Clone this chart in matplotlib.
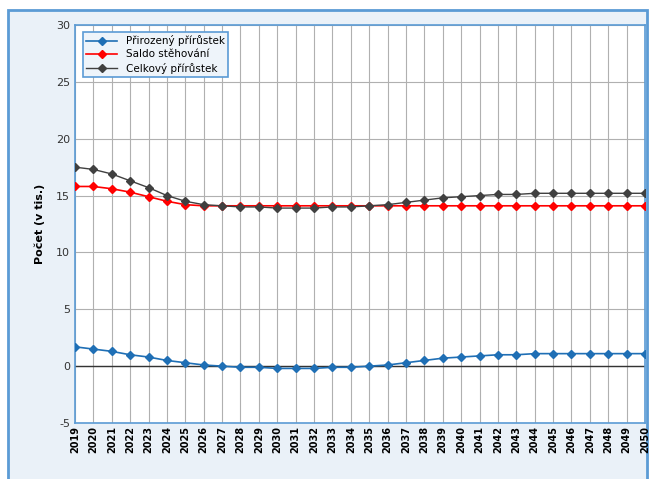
import matplotlib
matplotlib.use("Agg")
import matplotlib.pyplot as plt
from matplotlib.patches import Rectangle

plt.rcParams["axes.unicode_minus"] = False

years = list(range(2019, 2051))
celkovy = [17.5, 17.3, 16.9, 16.3, 15.7, 15.0, 14.5, 14.2, 14.1, 14.0, 14.0, 13.9,
           13.9, 13.9, 14.0, 14.0, 14.1, 14.2, 14.4, 14.6, 14.8, 14.9, 15.0, 15.1,
           15.1, 15.2, 15.2, 15.2, 15.2, 15.2, 15.2, 15.2]
saldo = [15.8, 15.8, 15.6, 15.3, 14.9, 14.5, 14.2, 14.1, 14.1, 14.1, 14.1, 14.1,
         14.1, 14.1, 14.1, 14.1, 14.1, 14.1, 14.1, 14.1, 14.1, 14.1, 14.1, 14.1,
         14.1, 14.1, 14.1, 14.1, 14.1, 14.1, 14.1, 14.1]
prirozeny = [1.7, 1.5, 1.3, 1.0, 0.8, 0.5, 0.3, 0.1, 0.0, -0.1, -0.1, -0.2,
             -0.2, -0.2, -0.1, -0.1, 0.0, 0.1, 0.3, 0.5, 0.7, 0.8, 0.9, 1.0,
             1.0, 1.1, 1.1, 1.1, 1.1, 1.1, 1.1, 1.1]

fig = plt.figure(figsize=(6.49, 4.79), dpi=100)
fig.patch.set_facecolor("white")
# light blue chart area with a blue border (bottom edge is cut off)
fig.patches.append(Rectangle((8 / 649, -0.02), 639 / 649, 469 / 479 + 0.02,
                             transform=fig.transFigure, facecolor="#eaf1f8",
                             edgecolor="#5b9bd5", linewidth=2, zorder=-1))

ax = fig.add_axes([75 / 649, 1 - 423 / 479, 570 / 649, 398 / 479])
ax.set_facecolor("white")

ax.plot(years, prirozeny, color="#1f6fb5", marker="D", markersize=4.5,
        linewidth=1.2, label="Přirozený přírůstek", zorder=3)
ax.plot(years, saldo, color="#ff0000", marker="D", markersize=4.5,
        linewidth=1.2, label="Saldo stěhování", zorder=3)
ax.plot(years, celkovy, color="#404040", marker="D", markersize=4.5,
        linewidth=1.0, label="Celkový přírůstek", zorder=4)

ax.set_xlim(2019, 2050)
ax.set_ylim(-5, 30)
ax.set_yticks(range(-5, 31, 5))
ax.set_xticks(years)
ax.set_xticklabels([str(y) for y in years], rotation=90, fontsize=7,
                   fontweight="bold")
ax.tick_params(axis="y", labelsize=8, length=0, colors="#333333")
ax.tick_params(axis="x", length=0, pad=2)
ax.grid(True, color="#b0b0b0", linewidth=0.8)
ax.axhline(0, color="#333333", linewidth=1.0, zorder=2)
ax.set_axisbelow(True)
for side in ["top", "right", "bottom", "left"]:
    ax.spines[side].set_color("#5b9bd5")
    ax.spines[side].set_linewidth(1.2)

ax.set_ylabel("Počet (v tis.)", fontsize=8, fontweight="bold", labelpad=8)

leg = ax.legend(loc="upper left", fontsize=7.5, frameon=True, fancybox=False,
                borderpad=0.3, labelspacing=0.3, handlelength=3,
                bbox_to_anchor=(0.005, 0.995))
leg.get_frame().set_edgecolor("#5b9bd5")
leg.get_frame().set_facecolor("#eef4fa")
leg.get_frame().set_linewidth(1.2)
leg.get_frame().set_alpha(1)

fig.savefig("out.png", dpi=100)
